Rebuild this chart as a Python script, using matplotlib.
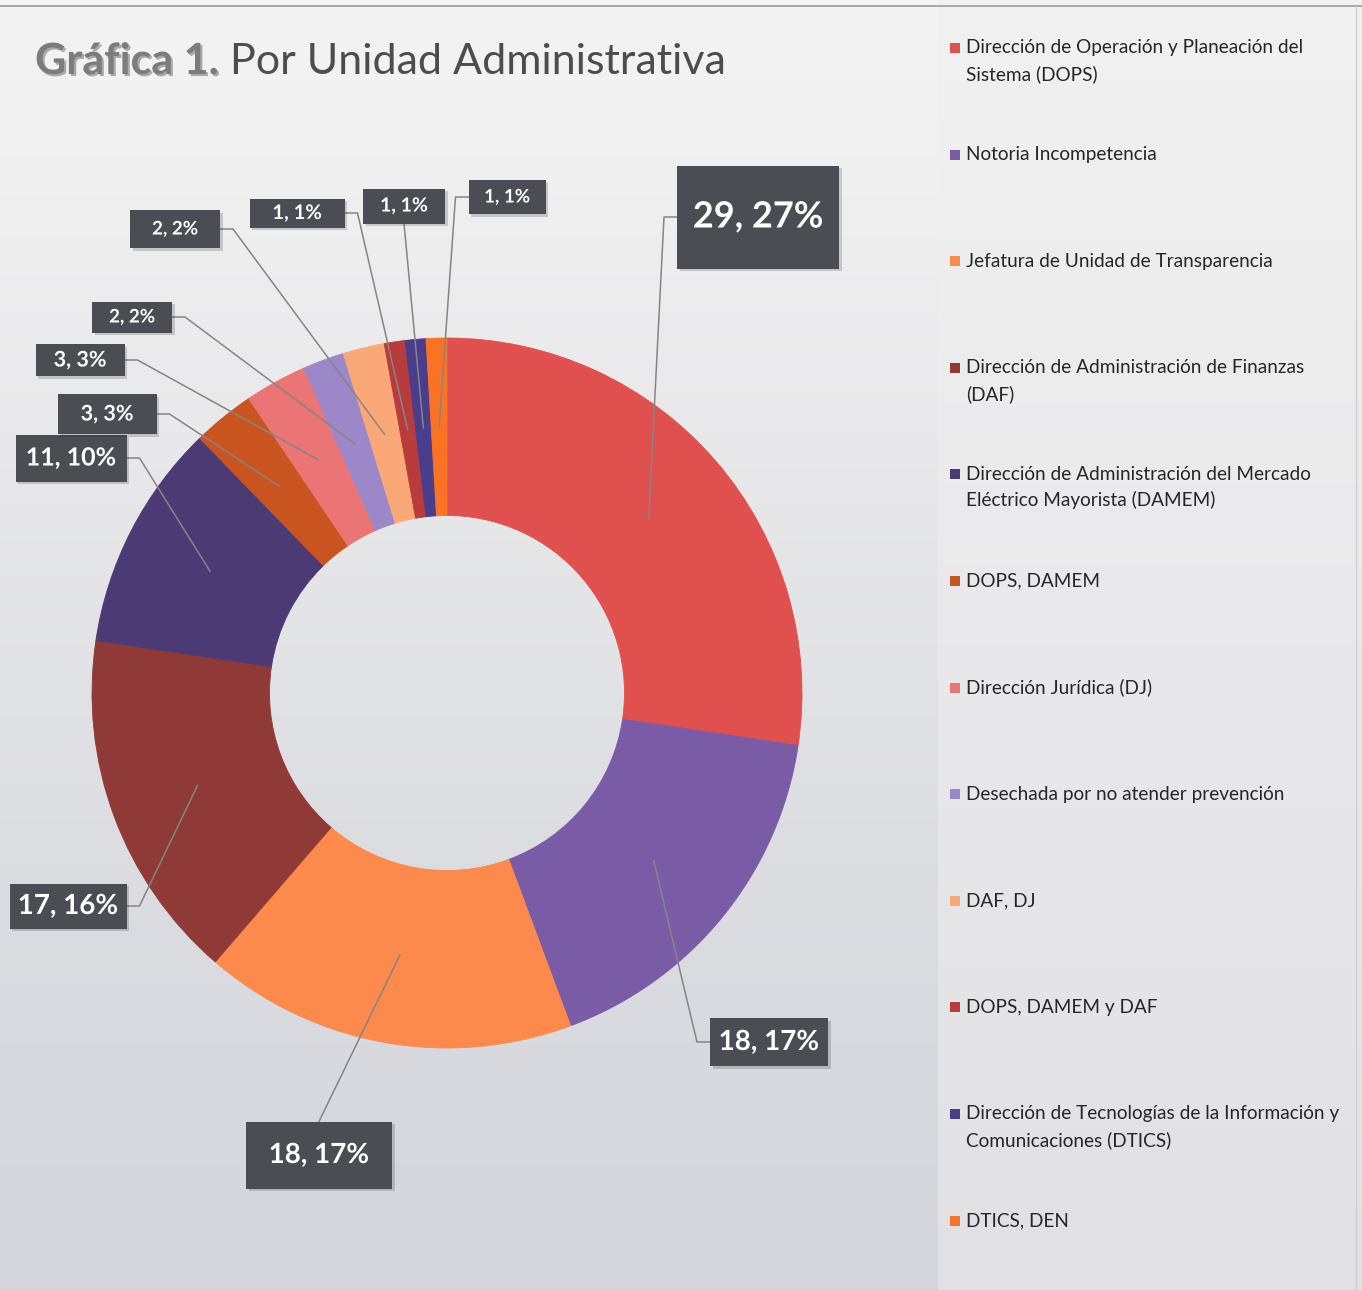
import matplotlib
matplotlib.use('Agg')
import matplotlib.pyplot as plt
import matplotlib.patheffects as pe
from matplotlib.patches import Rectangle
from matplotlib.colors import LinearSegmentedColormap
import numpy as np

plt.rcParams['font.family'] = ['Lato', 'DejaVu Sans']

# data
categories = [
    'Dirección de Operación y Planeación del\nSistema (DOPS)',
    'Notoria Incompetencia',
    'Jefatura de Unidad de Transparencia',
    'Dirección de Administración de Finanzas\n(DAF)',
    'Dirección de Administración del Mercado\nEléctrico Mayorista (DAMEM)',
    'DOPS, DAMEM',
    'Dirección Jurídica (DJ)',
    'Desechada por no atender prevención',
    'DAF, DJ',
    'DOPS, DAMEM y DAF',
    'Dirección de Tecnologías de la Información y\nComunicaciones (DTICS)',
    'DTICS, DEN',
]
values = [29, 18, 18, 17, 11, 3, 3, 2, 2, 1, 1, 1]
colors = ['#e0504f', '#7a5ba6', '#fb8a4c', '#8f3a37', '#4b3a73', '#c9541f',
          '#eb7474', '#9c88c8', '#fba878', '#b83c3c', '#4a3e8c', '#f97323']

# label box layout: centre (px from top-left), size, font size, side for leader
box_centers = [(758, 217), (769, 1042), (319, 1155), (68, 906), (71, 458), (107, 414),
               (80, 360), (132, 317), (175, 229), (297, 213), (404, 206), (507, 197)]
box_sizes = [(162, 103), (118, 48), (146, 67), (117, 45), (111, 47), (99, 40),
             (89, 32), (80, 31), (90, 38), (95, 29), (82, 35), (77, 34)]
box_fonts = [26, 20, 20, 20, 18, 15.5, 15.5, 13.5, 13.5, 14.5, 14, 13.5]
box_sides = ['left', 'left', 'top', 'right', 'right', 'right',
             'right', 'right', 'right', 'right', 'bottom', 'left']

W, H = 1362, 1290
CX, CY, R = 447, H - 693, 355

fig = plt.figure(figsize=(W / 100, H / 100), dpi=100)
ax = fig.add_axes([0, 0, 1, 1])

# scanned page background
cm_left = LinearSegmentedColormap.from_list('l', ['#f4f4f4', '#e9e9eb', '#dcdde1', '#d5d6dc'])
cm_right = LinearSegmentedColormap.from_list('r', ['#f1f1f1', '#e9e9eb', '#e1e1e5'])
grad = np.linspace(0, 1, 256).reshape(-1, 1)
ax.imshow(grad, cmap=cm_left, extent=(0, 938, 0, H), aspect='auto', zorder=0)
ax.imshow(grad, cmap=cm_right, extent=(938, W, 0, H), aspect='auto', zorder=0)
ax.plot([0, W], [H - 6, H - 6], color='#9a9a9a', lw=1.2, zorder=1)
ax.plot([1356, 1356], [0, H - 6], color='#d0d0d4', lw=1, zorder=1)

wedges, _ = ax.pie(values, colors=colors, startangle=90, counterclock=False,
                   radius=R, center=(CX, CY), wedgeprops=dict(width=R * 0.5))
for w in wedges:
    w.set_edgecolor(w.get_facecolor())
    w.set_linewidth(0.6)
    w.set_zorder(2)

total = sum(values)
for w, v, (bx, by), (bw, bh), fs, side in zip(wedges, values, box_centers,
                                              box_sizes, box_fonts, box_sides):
    by = H - by
    ang = np.deg2rad((w.theta1 + w.theta2) / 2)
    px, py = CX + 0.75 * R * np.cos(ang), CY + 0.75 * R * np.sin(ang)
    if side == 'left':
        xs, ys = [bx - bw / 2, bx - bw / 2 - 13, px], [by, by, py]
    elif side == 'right':
        xs, ys = [bx + bw / 2, bx + bw / 2 + 13, px], [by, by, py]
    elif side == 'top':
        xs, ys = [bx, px], [by + bh / 2, py]
    else:
        xs, ys = [bx, px], [by - bh / 2, py]
    ax.plot(xs, ys, color='#858585', lw=1.1, zorder=3)
    ax.add_patch(Rectangle((bx - bw / 2, by - bh / 2), bw, bh, facecolor='#4a4d53',
                           edgecolor='none', zorder=4,
                           path_effects=[pe.SimplePatchShadow(offset=(2, -2), alpha=0.18),
                                         pe.Normal()]))
    ax.text(bx, by, f'{v}, {round(v / total * 100)}%', ha='center', va='center',
            fontsize=fs, fontweight='bold', color='white', zorder=5,
            path_effects=[pe.withSimplePatchShadow(offset=(1, -1), alpha=0.6)])

# legend
for i, (lbl, c) in enumerate(zip(categories, colors)):
    y0 = H - (48 + i * 106.6)
    ax.add_patch(Rectangle((950, y0 - 5), 10, 10, facecolor=c, edgecolor='none', zorder=3))
    for k, line in enumerate(lbl.split('\n')):
        ax.text(966, y0 - k * 26, line, ha='left', va='center', fontsize=13.7,
                color='#262626', zorder=3)

# title
t1 = ax.text(35, H - 74, 'Gráfica 1.', ha='left', va='baseline', fontsize=31,
             fontweight='bold', color='#7c7c7c', zorder=3,
             path_effects=[pe.withSimplePatchShadow(offset=(1.5, -1.5), alpha=0.35)])
ax.annotate(' Por Unidad Administrativa', xy=(1, 0), xycoords=t1, ha='left', va='bottom',
            fontsize=31, color='#4d4d4d', zorder=3)

ax.set_xlim(0, W)
ax.set_ylim(0, H)
ax.set_aspect('auto')
ax.axis('off')

fig.savefig('out.png', dpi=100)
